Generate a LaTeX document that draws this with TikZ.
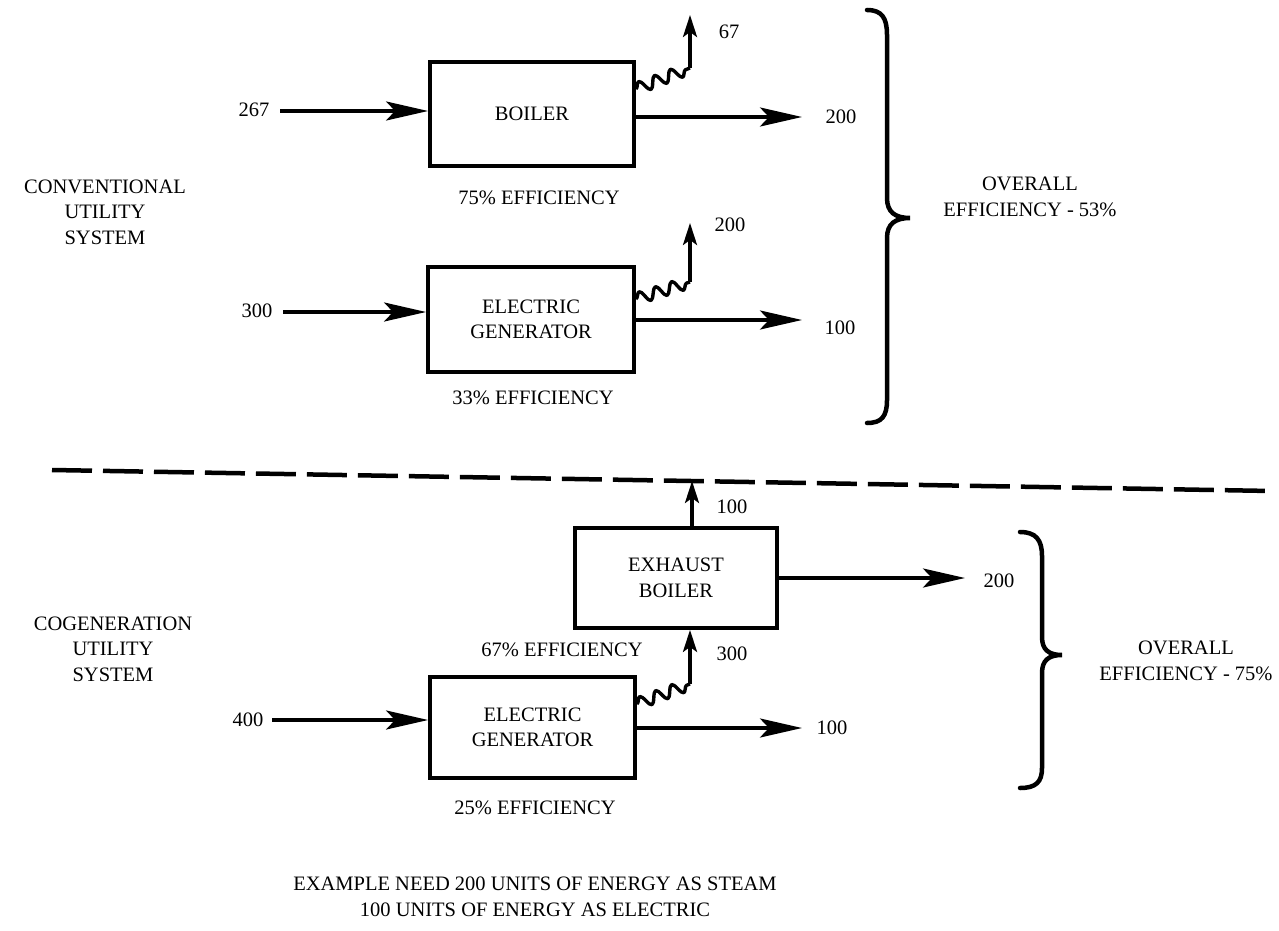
\documentclass[tikz,border=0pt]{standalone}
\usepackage{fontspec}
\setmainfont{Liberation Serif}
\usetikzlibrary{arrows.meta,decorations.pathmorphing}
\begin{document}
\begin{tikzpicture}[x=1pt,y=-1pt,
  every node/.style={font=\fontsize{20.5}{25.5}\selectfont, inner sep=0pt},
  blk/.style={draw, line width=3.8pt, minimum width=#1, align=center},
  lbl/.style={align=center},
  arr/.style={line width=3.4pt, -{Stealth[length=42pt,width=19pt,inset=9pt]}},
  uparr/.style={line width=3.4pt, -{Stealth[length=22pt,width=14pt,inset=5pt]}},
  wavy/.style={line width=3.4pt, line join=round, decorate, decoration={snake, segment length=17pt, amplitude=6pt}},
  brace/.style={line width=4.5pt, line cap=round},
  sep/.style={line width=4.5pt, dash pattern=on 40pt off 11pt}
]
\useasboundingbox (0,0) rectangle (1279,931);

% ---------- conventional ----------
\node[blk=204pt, minimum height=104pt] (boiler) at (532,114) {BOILER};
\node[blk=206pt, minimum height=105pt] (eg1) at (531,319.5) {ELECTRIC\\GENERATOR};

\node (i267) at (254,110) {267};
\node (i300) at (257,311) {300};
\coordinate (s1) at (280,111);
\coordinate (s2) at (283,312);
\draw[arr] (s1) -- (s1 -| boiler.west);
\draw[arr] (s2) -- (s2 -| eg1.west);

\node (o200a) at (841,117) {200};
\node (o100a) at (840,328) {100};
\coordinate (b1out) at (boiler.east |- 0,117);
\draw[arr] (b1out) -- (802,117);
\coordinate (e1out) at (eg1.east |- 0,320);
\draw[arr] (e1out) -- (802,320);

\node (w67) at (729,32) {67};
\node (w200) at (730,225) {200};
\coordinate (b1w) at (boiler.east |- 0,89);
\coordinate (b1k) at (690,68);
\coordinate (b1t) at (690,15);
\draw[wavy] (b1w) -- (b1k);
\draw[uparr] (b1k) -- (b1t);
\coordinate (e1w) at (eg1.east |- 0,299);
\coordinate (e1k) at (690,282);
\coordinate (e1t) at (690,223);
\draw[wavy] (e1w) -- (e1k);
\draw[uparr] (e1k) -- (e1t);

\node (eff75) at (539,198) {75\% EFFICIENCY};
\node (eff33) at (533,398) {33\% EFFICIENCY};

\node[lbl] (conv) at (105,212) {CONVENTIONAL\\UTILITY\\SYSTEM};
\node[lbl] (ov53) at (1030,197) {OVERALL\\EFFICIENCY - 53\%};

\draw[brace] (867,10) .. controls (882,10) and (887,18) .. (887,35) -- (887,198)
  .. controls (887,212) and (895,218) .. (910,218)
  .. controls (895,218) and (887,224) .. (887,238) -- (887,400)
  .. controls (887,416) and (882,423) .. (867,423);

% ---------- separator ----------
\coordinate (dl) at (52,470);
\coordinate (dr) at (1272,491);
\draw[sep] (dl) -- (dr);

% ---------- cogeneration ----------
\node[blk=202pt, minimum height=100pt] (exb) at (676,578) {EXHAUST\\BOILER};
\node[blk=205pt, minimum height=101pt] (eg2) at (532.5,727.5) {ELECTRIC\\GENERATOR};

\node (i400) at (248,720) {400};
\coordinate (s3) at (272,720);
\draw[arr] (s3) -- (s3 -| eg2.west);

\node (o200b) at (999,581) {200};
\node (o100b) at (832,728) {100};
\coordinate (exout) at (exb.east |- 0,578);
\draw[arr] (exout) -- (965,578);
\coordinate (e2out) at (eg2.east |- 0,728);
\draw[arr] (e2out) -- (802,728);

\node (u100) at (732,507) {100};
\coordinate (exup) at (692,528);
\coordinate (exdl) at (692,481);
\draw[uparr] (exup) -- (exdl);

\node (w300) at (732,654) {300};
\coordinate (e2w) at (eg2.east |- 0,704);
\coordinate (e2k) at (690,684);
\draw[wavy] (e2w) -- (e2k);
\draw[uparr] (e2k) -- (e2k |- exb.south);

\node (eff67) at (562,650) {67\% EFFICIENCY};
\node (eff25) at (535,808) {25\% EFFICIENCY};

\node[lbl] (cogen) at (113,649) {COGENERATION\\UTILITY\\SYSTEM};
\node[lbl] (ov75) at (1186,661) {OVERALL\\EFFICIENCY - 75\%};

\draw[brace] (1020,532) .. controls (1036,532) and (1042,540) .. (1042,556) -- (1042,637)
  .. controls (1042,650) and (1049,655) .. (1062,655)
  .. controls (1049,655) and (1042,660) .. (1042,673) -- (1042,768)
  .. controls (1042,782) and (1036,788) .. (1020,788);

\node[lbl] (note) at (535,897) {EXAMPLE NEED 200 UNITS OF ENERGY AS STEAM\\100 UNITS OF ENERGY AS ELECTRIC};
\end{tikzpicture}
\end{document}
